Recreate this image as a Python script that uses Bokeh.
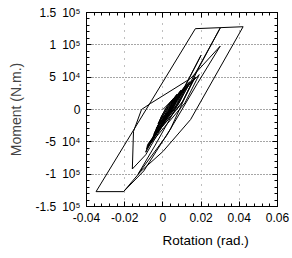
from bokeh.plotting import figure
from bokeh.models import (LinearAxis, FixedTicker, Range1d, Title, ColumnDataSource)
from bokeh.embed import file_html
from bokeh.resources import INLINE

# ---- data ----
rotation = [
    0.000,
    0.005, 0.0035, -0.001, -0.002, -0.001, 0.002,
    0.0055, 0.004, -0.0015, -0.0025, -0.0005, 0.0025,
    0.007, 0.0045, -0.002, -0.003, -0.001, 0.003,
    0.0075, 0.005, -0.0025, -0.0035, -0.0005, 0.004,
    0.009, 0.0055, -0.003, -0.004, -0.001, 0.004,
    0.0095, 0.006, -0.0035, -0.0045, 0.000, 0.005,
    0.011, 0.0065, -0.004, -0.005, -0.001, 0.005,
    0.012, 0.0075, -0.0045, -0.0055, 0.000, 0.006,
    0.013, 0.0075, -0.005, -0.006, -0.001, 0.006,
    0.014, 0.0085, -0.006, -0.007, 0.000, 0.007,
    0.016, 0.0095, -0.007, -0.008, -0.002, 0.007,
    0.017, 0.0105, -0.008, -0.0085, -0.001, 0.008,
    0.019, 0.0115, -0.008, -0.009, -0.003, 0.009,
    0.020, 0.011, -0.009, -0.016,
    -0.0154, -0.0112, -0.0065, 0.0145, 0.030,
    0.018, 0.002, -0.013,
    -0.004, 0.014, 0.030,
    0.018, 0.004, -0.010, -0.0206,
    -0.035, 0.017, 0.042,
    0.0145, 0.000, -0.0117, -0.0206,
]
moment = [
    0,
    15000, -2000, -14000, -20000, -12000, 4000,
    17000, 0, -17000, -22000, -9000, 6000,
    22000, 0, -21000, -28000, -15000, 6000,
    24000, 3000, -24000, -30000, -12000, 9000,
    28000, 2000, -27000, -35000, -19000, 8000,
    30000, 5000, -30000, -37000, -15000, 11000,
    34000, 4000, -34000, -42000, -23000, 10000,
    37000, 8000, -37000, -45000, -19000, 14000,
    40000, 6000, -42000, -50000, -27000, 12000,
    43000, 10000, -46000, -53000, -23000, 17000,
    46000, 8000, -50000, -58000, -31000, 14000,
    50000, 13000, -54000, -61000, -27000, 20000,
    54000, 10000, -58000, -66000, -35000, 22000,
    84000, 32000, -70000, -92000,
    -34000, 0, 9300, 48000, 98000,
    40000, -40000, -100000,
    -55000, 40000, 126000,
    60000, -30000, -95000, -127000,
    -127000, 125000, 128000,
    -15500, -65000, -96000, -127000,
]

x_ticks = [-0.04, -0.02, 0, 0.02, 0.04, 0.06]
y_ticks = [-150000, -100000, -50000, 0, 50000, 100000, 150000]
y_tick_labels = ["-1.5\u200210\u2075", "-1\u200210\u2075", "-5\u200210\u2074", "0",
                 "5\u200210\u2074", "1\u200210\u2075", "1.5\u200210\u2075"]
x_tick_labels = ["-0.04", "-0.02", "0", "0.02", "0.04", "0.06"]
n_minor = 5

FONT = "Liberation Sans"

def minor_of(ticks):
    out = []
    for a, b in zip(ticks[:-1], ticks[1:]):
        step = (b - a) / n_minor
        out += [a + i * step for i in range(1, n_minor)]
    return out

p = figure(width=292, height=258, output_backend="svg", toolbar_location=None,
           x_range=Range1d(-0.04, 0.06), y_range=Range1d(-150000, 150000),
           min_border_left=86, min_border_right=15, min_border_top=12,
           min_border_bottom=52, background_fill_color="white",
           border_fill_color="white")
p.outline_line_color = "black"
p.outline_line_width = 1

src = ColumnDataSource(dict(x=rotation, y=moment))
p.line("x", "y", source=src, line_color="black", line_width=1.0)

def style_axis(ax):
    ax.minor_tick_line_color = "black"
    ax.major_tick_line_color = "black"
    ax.major_tick_in = 5
    ax.major_tick_out = 0
    ax.minor_tick_in = 3
    ax.minor_tick_out = 0
    ax.axis_line_color = "black"
    ax.major_label_text_font = FONT
    ax.major_label_text_color = "black"

xt = FixedTicker(ticks=x_ticks, minor_ticks=minor_of(x_ticks))
yt = FixedTicker(ticks=y_ticks, minor_ticks=minor_of(y_ticks))

xa = p.xaxis[0]
xa.ticker = xt
xa.major_label_overrides = {v: s for v, s in zip(x_ticks, x_tick_labels)}
style_axis(xa)
xa.major_label_text_font_size = "12px"
xa.major_label_standoff = 6

ya = p.yaxis[0]
ya.ticker = yt
ya.major_label_overrides = {v: s for v, s in zip(y_ticks, y_tick_labels)}
style_axis(ya)
ya.major_label_text_font_size = "12px"
ya.major_label_standoff = 6
ya.axis_label = "Moment (N.m.)"
ya.axis_label_text_font = FONT
ya.axis_label_text_font_size = "14px"
ya.axis_label_text_font_style = "normal"
ya.axis_label_standoff = 9

top = LinearAxis(ticker=FixedTicker(ticks=x_ticks, minor_ticks=minor_of(x_ticks)))
style_axis(top)
top.major_label_overrides = {v: "" for v in x_ticks}
top.major_label_standoff = 0
p.add_layout(top, "above")
right = LinearAxis(ticker=FixedTicker(ticks=y_ticks, minor_ticks=minor_of(y_ticks)))
style_axis(right)
right.major_label_overrides = {v: "" for v in y_ticks}
right.major_label_standoff = 0
p.add_layout(right, "right")

p.xgrid.ticker = xt
p.ygrid.ticker = yt
p.ygrid.grid_line_color = "black"
p.ygrid.grid_line_dash = "1 2"
p.ygrid.grid_line_alpha = 0.7
p.xgrid.grid_line_color = "black"
p.xgrid.grid_line_dash = "1 6"
p.xgrid.grid_line_alpha = 0.5

xl = Title(text="Rotation (rad.)", align="left", offset=76,
           text_font=FONT, text_font_size="13.5px", text_font_style="normal",
           text_color="black", standoff=12)
p.add_layout(xl, "below")

open("out.html", "w").write(file_html(p, INLINE))
